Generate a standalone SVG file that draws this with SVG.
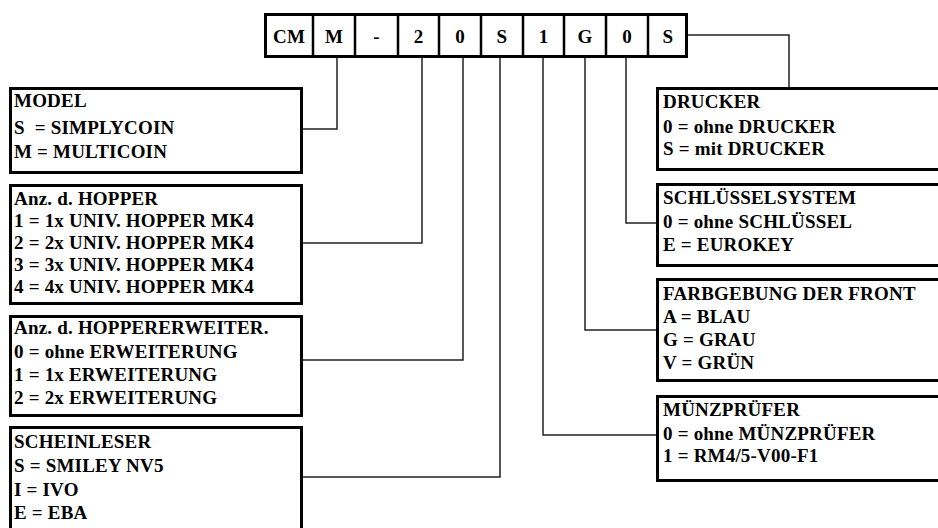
<svg xmlns="http://www.w3.org/2000/svg" width="938" height="528" viewBox="0 0 938 528">
<style>
  .box { fill: #fff; stroke: #000; stroke-width: 3; }
  .cell { stroke: #000; stroke-width: 2.5; }
  .t { font-family: 'Liberation Serif', 'DejaVu Serif', serif; font-weight: 700; font-size: 19px; letter-spacing: 0.2px; fill: #000; white-space: pre; }
  .c { text-anchor: middle; }
  .con { fill: none; stroke: #222; stroke-width: 1.5; }
</style>
<rect width="938" height="528" fill="#fff"/>

<g id="connectors">
  <polyline class="con" points="337,58 337,129 303,129"/>
  <polyline class="con" points="422,58 422,243 303,243"/>
  <polyline class="con" points="463,58 463,360 303,360"/>
  <polyline class="con" points="500,58 500,477 303,477"/>
  <polyline class="con" points="543,58 543,435 656,435"/>
  <polyline class="con" points="585,58 585,330 656,330"/>
  <polyline class="con" points="626,58 626,223 656,223"/>
  <polyline class="con" points="688,35 789,35 789,87"/>
</g>

<g id="code">
  <rect class="box" x="265.5" y="14.5" width="421" height="42"/>
  <line class="cell" x1="313" y1="14" x2="313" y2="57"/>
  <line class="cell" x1="355" y1="14" x2="355" y2="57"/>
  <line class="cell" x1="398" y1="14" x2="398" y2="57"/>
  <line class="cell" x1="439" y1="14" x2="439" y2="57"/>
  <line class="cell" x1="481" y1="14" x2="481" y2="57"/>
  <line class="cell" x1="523" y1="14" x2="523" y2="57"/>
  <line class="cell" x1="564" y1="14" x2="564" y2="57"/>
  <line class="cell" x1="606" y1="14" x2="606" y2="57"/>
  <line class="cell" x1="648" y1="14" x2="648" y2="57"/>
  <text class="t c" x="289" y="43">CM</text>
  <text class="t c" x="334" y="43">M</text>
  <text class="t c" x="376.5" y="43">-</text>
  <text class="t c" x="418.5" y="43">2</text>
  <text class="t c" x="460" y="43">0</text>
  <text class="t c" x="502" y="43">S</text>
  <text class="t c" x="543.5" y="43">1</text>
  <text class="t c" x="585" y="43">G</text>
  <text class="t c" x="627" y="43">0</text>
  <text class="t c" x="668" y="43">S</text>
</g>

<g id="model">
  <rect class="box" x="10.5" y="88.5" width="291" height="84"/>
  <text class="t" x="14" y="107">MODEL</text>
  <text class="t" x="14" y="134">S  = SIMPLYCOIN</text>
  <text class="t" x="14" y="158">M = MULTICOIN</text>
</g>

<g id="hopper">
  <rect class="box" x="10.5" y="185.5" width="291" height="118"/>
  <text class="t" x="14" y="205">Anz. d. HOPPER</text>
  <text class="t" x="14" y="227">1 = 1x UNIV. HOPPER MK4</text>
  <text class="t" x="14" y="249">2 = 2x UNIV. HOPPER MK4</text>
  <text class="t" x="14" y="271">3 = 3x UNIV. HOPPER MK4</text>
  <text class="t" x="14" y="293">4 = 4x UNIV. HOPPER MK4</text>
</g>

<g id="hoppererweiter">
  <rect class="box" x="10.5" y="316.5" width="291" height="99"/>
  <text class="t" x="14" y="334">Anz. d. HOPPERERWEITER.</text>
  <text class="t" x="14" y="358">0 = ohne ERWEITERUNG</text>
  <text class="t" x="14" y="381">1 = 1x ERWEITERUNG</text>
  <text class="t" x="14" y="404">2 = 2x ERWEITERUNG</text>
</g>

<g id="scheinleser">
  <rect class="box" x="10.5" y="427.5" width="291" height="120"/>
  <text class="t" x="14" y="448">SCHEINLESER</text>
  <text class="t" x="14" y="472">S = SMILEY NV5</text>
  <text class="t" x="14" y="496">I = IVO</text>
  <text class="t" x="14" y="519">E = EBA</text>
</g>

<g id="drucker">
  <rect class="box" x="657.5" y="88.5" width="290" height="81"/>
  <text class="t" x="663" y="108">DRUCKER</text>
  <text class="t" x="663" y="133">0 = ohne DRUCKER</text>
  <text class="t" x="663" y="155">S = mit DRUCKER</text>
</g>

<g id="schluessel">
  <rect class="box" x="657.5" y="184.5" width="290" height="81"/>
  <text class="t" x="663" y="204">SCHLÜSSELSYSTEM</text>
  <text class="t" x="663" y="228">0 = ohne SCHLÜSSEL</text>
  <text class="t" x="663" y="251">E = EUROKEY</text>
</g>

<g id="farbgebung">
  <rect class="box" x="657.5" y="279.5" width="290" height="101"/>
  <text class="t" x="663" y="300">FARBGEBUNG DER FRONT</text>
  <text class="t" x="663" y="323">A = BLAU</text>
  <text class="t" x="663" y="346">G = GRAU</text>
  <text class="t" x="663" y="369">V = GRÜN</text>
</g>

<g id="muenzpruefer">
  <rect class="box" x="657.5" y="396.5" width="290" height="84"/>
  <text class="t" x="663" y="416">MÜNZPRÜFER</text>
  <text class="t" x="663" y="440">0 = ohne MÜNZPRÜFER</text>
  <text class="t" x="663" y="462">1 = RM4/5-V00-F1</text>
</g>
</svg>
